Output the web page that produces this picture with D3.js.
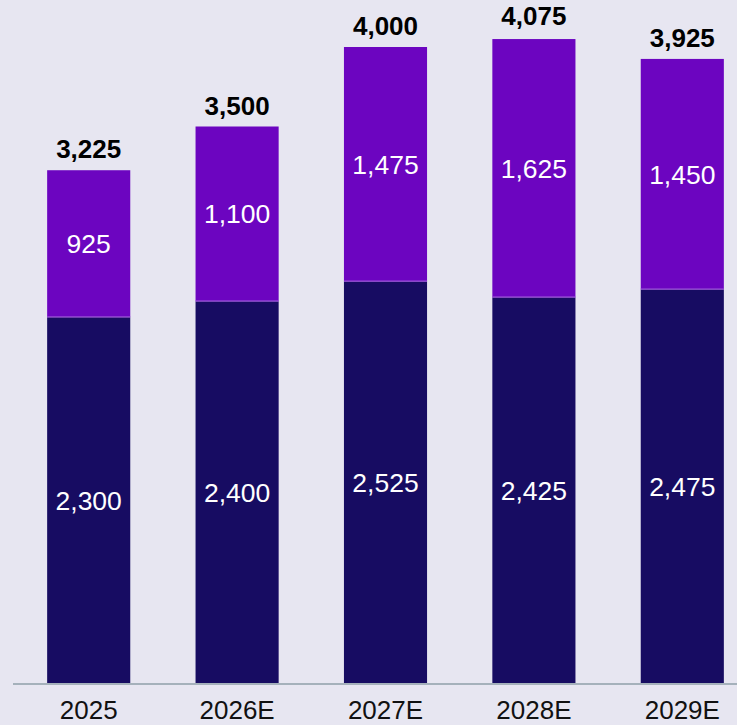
<!DOCTYPE html>
<html>
<head>
<meta charset="utf-8">
<script src="https://cdn.jsdelivr.net/npm/d3@7"></script>
<style>
  html, body { margin: 0; padding: 0; background: #e7e6f1; }
  svg { display: block; font-family: "Liberation Sans", Arial, sans-serif; }
</style>
</head>
<body>
<svg id="chart" width="737" height="725"></svg>
<script>
// Yearly figures: base segment and upper segment
const years = ["2025", "2026E", "2027E", "2028E", "2029E"];
const baseValues = [2300, 2400, 2525, 2425, 2475];
const upperValues = [925, 1100, 1475, 1625, 1450];
const totals = [3225, 3500, 4000, 4075, 3925];

const colors = { base: "#170c62", upper: "#6c05c0", axis: "#a5b1bb" };

const width = 737, height = 725;
const baseline = 683;

const svg = d3.select("#chart");

const x = d3.scaleBand()
  .domain(years)
  .range([14.5, 756.5])
  .paddingInner(0.44)
  .paddingOuter(0.22);

const y = d3.scaleLinear()
  .domain([0, 4000])
  .range([baseline, 47]);

const fmt = d3.format(",");

const rows = years.map((yr, i) => ({
  year: yr,
  base: baseValues[i],
  upper: upperValues[i],
  total: totals[i]
}));

const stack = d3.stack().keys(["base", "upper"]);
const series = stack(rows);

const groups = svg.selectAll("g.series")
  .data(series)
  .join("g")
  .attr("class", "series")
  .attr("fill", d => colors[d.key]);

groups.selectAll("rect")
  .data(d => d)
  .join("rect")
  .attr("x", d => x(d.data.year))
  .attr("width", x.bandwidth())
  .attr("y", d => y(d[1]))
  .attr("height", d => y(d[0]) - y(d[1]));

// thin highlight at the join between segments
svg.selectAll("line.join")
  .data(rows)
  .join("line")
  .attr("class", "join")
  .attr("x1", d => x(d.year))
  .attr("x2", d => x(d.year) + x.bandwidth())
  .attr("y1", d => y(d.base) - 0.5)
  .attr("y2", d => y(d.base) - 0.5)
  .attr("stroke", "#9a55d8")
  .attr("stroke-width", 1);

// segment value labels
groups.selectAll("text")
  .data(d => d)
  .join("text")
  .attr("x", d => x(d.data.year) + x.bandwidth() / 2)
  .attr("y", d => (y(d[0]) + y(d[1])) / 2)
  .attr("dy", "0.36em")
  .attr("text-anchor", "middle")
  .attr("fill", "#ffffff")
  .attr("font-size", 26.5)
  .text(d => fmt(d[1] - d[0]));

// totals above the bars
svg.selectAll("text.total")
  .data(rows)
  .join("text")
  .attr("class", "total")
  .attr("x", d => x(d.year) + x.bandwidth() / 2)
  .attr("y", d => Math.max(y(d.total) - 12, 25))
  .attr("text-anchor", "middle")
  .attr("font-weight", "bold")
  .attr("font-size", 26)
  .attr("fill", "#000000")
  .text(d => fmt(d.total));

// category axis
const xAxis = d3.axisBottom(x).tickSize(0).tickPadding(0);
const axisG = svg.append("g")
  .attr("transform", `translate(0,${baseline})`)
  .call(xAxis);
axisG.select(".domain").remove();
axisG.append("line")
  .attr("x1", 13).attr("x2", width)
  .attr("y1", 1).attr("y2", 1)
  .attr("stroke", colors.axis)
  .attr("stroke-width", 2);
axisG.selectAll(".tick text")
  .attr("y", 36)
  .attr("dy", 0)
  .attr("font-size", 26)
  .attr("font-family", "Liberation Sans, Arial, sans-serif")
  .attr("fill", "#111111");
</script>
</body>
</html>
